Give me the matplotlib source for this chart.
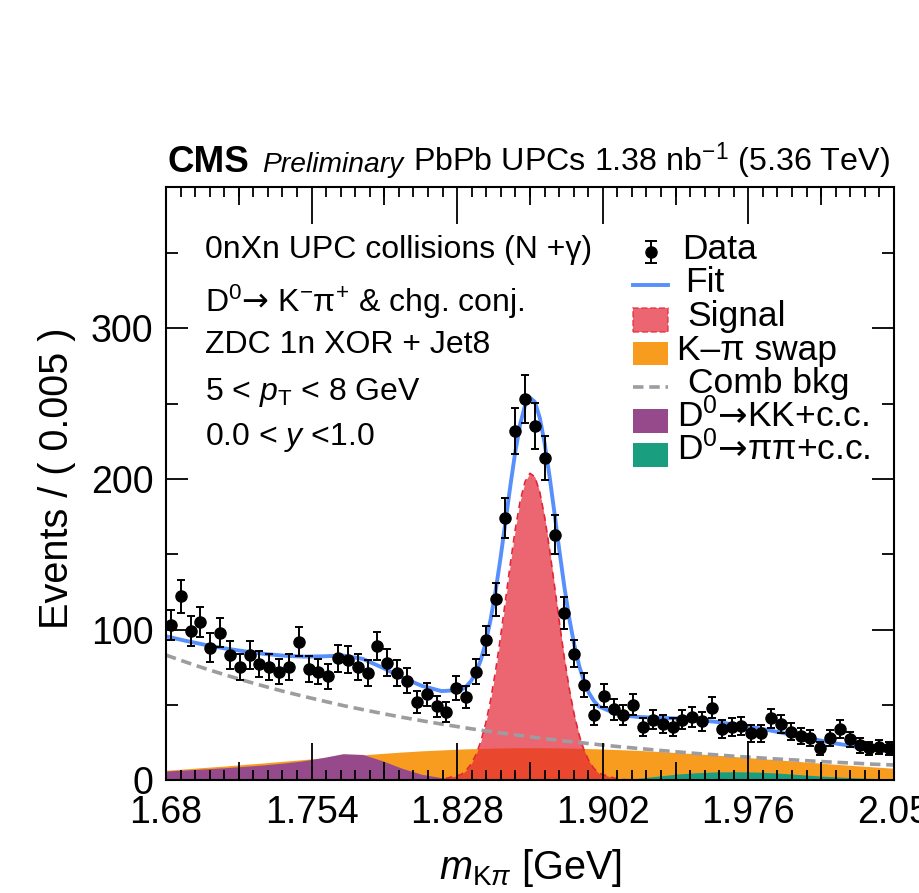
import numpy as np
import matplotlib
matplotlib.use("Agg")
from matplotlib import pyplot as plt
from matplotlib.patches import Rectangle

plt.rcParams['font.family'] = 'Liberation Sans'
plt.rcParams['mathtext.fontset'] = 'custom'
plt.rcParams['mathtext.rm'] = 'Liberation Sans'
plt.rcParams['mathtext.it'] = 'Liberation Sans:italic'
plt.rcParams['mathtext.bf'] = 'Liberation Sans:bold'
plt.rcParams['mathtext.sf'] = 'DejaVu Sans'

# binned K-pi invariant mass, 5 MeV bins from 1.68 to 2.05 GeV
bin_lo = 1.68
bin_width = 0.005
counts = [103, 122, 99, 105, 88, 98, 83, 75, 83, 77,
          75, 72, 75, 92, 74, 72, 69, 81, 80, 75,
          71, 89, 78, 71, 66, 52, 57, 49, 45, 61,
          55, 72, 93, 120, 174, 232, 253, 235, 214, 163,
          111, 84, 63, 43, 56, 47, 43, 50, 35, 40,
          37, 35, 40, 42, 39, 48, 34, 35, 36, 31,
          31, 41, 37, 32, 29, 28, 21, 28, 34, 27,
          23, 21, 22, 21]

# fit components, sampled coarsely on the sidebands and finely under the peak
mass = np.round(np.concatenate([np.linspace(1.68, 1.83, 16),
                                np.linspace(1.8325, 1.8975, 27),
                                np.linspace(1.90, 2.05, 16)]), 4)

comb_bkg = [83.0, 78.4, 74.0, 69.9, 66.0, 62.3, 58.8, 55.6, 52.5, 49.5, 46.8, 44.2, 41.7, 39.4, 37.2, 35.1,
            34.6, 34.1, 33.6, 33.1, 32.7, 32.2, 31.8, 31.3, 30.9, 30.4, 30.0, 29.6, 29.2, 28.7,
            28.3, 27.9, 27.5, 27.1, 26.8, 26.4, 26.0, 25.6, 25.3, 24.9, 24.6, 24.2, 23.9,
            23.5, 22.2, 21.0, 19.8, 18.7, 17.6, 16.7, 15.7, 14.9, 14.0, 13.3, 12.5, 11.8, 11.2, 10.5, 10.0]

kpi_swap = [6.5, 7.4, 8.4, 9.3, 10.4, 11.4, 12.5, 13.6, 14.7, 15.7, 16.7, 17.7, 18.6, 19.4, 20.0, 20.6,
            20.7, 20.8, 20.9, 21.0, 21.1, 21.2, 21.3, 21.3, 21.4, 21.4, 21.5, 21.5, 21.5, 21.5,
            21.5, 21.5, 21.5, 21.4, 21.4, 21.4, 21.3, 21.2, 21.2, 21.1, 21.0, 20.9, 20.8,
            20.7, 20.2, 19.7, 19.0, 18.2, 17.4, 16.5, 15.5, 14.5, 13.5, 12.5, 11.5, 10.5, 9.6, 8.7, 7.8]

d0_kk = ([6.0, 6.7, 7.4, 8.2, 9.1, 10.1, 11.3, 12.8, 15.0, 17.5, 17.0, 12.8, 7.8, 3.8, 1.6, 0.5,
          0.4, 0.3, 0.2, 0.1] + [0.0] * 23 + [0.0] * 16)

d0_pipi = ([0.0] * 16 + [0.0] * 24 + [0.05, 0.1, 0.15] +
           [0.2, 0.5, 1.2, 2.6, 4.0, 4.9, 5.4, 5.5, 5.3, 4.7, 3.8, 2.9, 2.1, 1.5, 1.0, 0.7])

signal = ([0.0] * 14 + [0.3, 3.6] +
          [6.3, 10.4, 16.6, 25.5, 37.5, 53.2, 72.3, 94.6, 118.8, 143.4, 166.2, 185.2, 198.2, 203.8,
           201.4, 191.2, 174.4, 152.8, 128.7, 104.1, 80.9, 60.4, 43.4, 29.9, 19.8, 12.6, 7.7] +
          [4.5, 0.4] + [0.0] * 14)

c_fit = '#5790fc'
c_sig = '#e42536'
c_swap = '#f89c20'
c_comb = '#9c9ca1'
c_kk = '#964a8b'
c_pipi = '#1a9e80'

counts = np.array(counts, dtype=float)
centers = bin_lo + bin_width * (np.arange(len(counts)) + 0.5)
errors = np.sqrt(counts)
fit = (np.array(comb_bkg) + np.array(kpi_swap) + np.array(d0_kk)
       + np.array(d0_pipi) + np.array(signal))

fig = plt.figure(figsize=(9.2, 8.93), dpi=100)
ax = fig.add_axes([0.1804, 0.1265, 0.7913, 0.6641])

ax.fill_between(mass, 0, kpi_swap, color=c_swap, lw=0, zorder=1)
ax.fill_between(mass, 0, d0_kk, color=c_kk, lw=0, zorder=1.2)
ax.fill_between(mass, 0, d0_pipi, color=c_pipi, lw=0, zorder=1.2)
ax.fill_between(mass, 0, signal, color=c_sig, alpha=0.7, lw=0, zorder=1.5)
ax.plot(mass, signal, color=c_sig, lw=1.2, ls=(0, (4, 3)), zorder=1.6)
ax.plot(mass, comb_bkg, color=c_comb, lw=2.6, ls=(0, (2.9, 1.6)), zorder=2)
ax.plot(mass, fit, color=c_fit, lw=2.8, zorder=3)
ax.errorbar(centers, counts, yerr=errors, fmt='o', color='black', ms=8,
            elinewidth=1.4, capsize=2.9, capthick=1.4, zorder=4)

ax.set_xlim(1.68, 2.05)
ax.set_ylim(0, 394)

# three levels of ticks on the mass axis
x_major = np.linspace(1.68, 2.05, 6)
x_mid = x_major[:-1] + 0.037
x_minor = np.linspace(1.68, 2.05, 51)
ax.set_xticks(x_major)
ax.set_xticklabels(['1.68', '1.754', '1.828', '1.902', '1.976', '2.05'])
ax.set_xticks(x_minor, minor=True)
ax.set_yticks([0, 100, 200, 300])
ax.set_yticks(np.arange(0, 394, 50), minor=True)
ax.tick_params(which='both', direction='in', top=True, right=True, width=1.3, labelsize=27)
ax.tick_params(axis='x', which='major', length=26.5, pad=11)
ax.tick_params(axis='x', which='minor', length=7.2)
ax.tick_params(axis='y', which='major', length=15.5, pad=9)
ax.tick_params(axis='y', which='minor', length=8.5)
ax.vlines(x_mid, 0, 0.0304, transform=ax.get_xaxis_transform(), color='black', lw=1.3, zorder=10)
ax.vlines(x_mid, 0.9696, 1, transform=ax.get_xaxis_transform(), color='black', lw=1.3, zorder=10)
ax.xaxis.set_zorder(10)
ax.yaxis.set_zorder(10)
for sp in ax.spines.values():
    sp.set_linewidth(1.5)
    sp.set_zorder(10)

# titles
fig.text(0.1826, 0.8077, 'CMS', fontsize=26.5, fontweight='bold', va='baseline')
fig.text(0.2848, 0.8077, 'Preliminary', fontsize=20.3, style='italic', va='baseline')
fig.text(0.9674, 0.8077, r'PbPb UPCs 1.38 nb$^{-1}$ (5.36 TeV)', fontsize=23.2, ha='right', va='baseline')
fig.text(0.062, 0.4647, 'Events / ( 0.005 )', fontsize=28.5, rotation=90, ha='center', va='center')
fig.text(0.576, 0.016, r'$m_{\mathrm{K}\pi}$ [GeV]', fontsize=28.5, ha='center', va='baseline')

# selection text
arrow = r'$\mathsf{→}$'
info = ['0nXn UPC collisions (N +γ)',
        r'D$^{0}$' + arrow + r' K$^{-}$π$^{+}$ & chg. conj.',
        'ZDC 1n XOR + Jet8',
        r'5 < $p_{\mathrm{T}}$ < 8 GeV',
        r'0.0 < $y$ <1.0']
info_y = [0.8803, 0.7897, 0.7201, 0.6408, 0.5649]
for txt, yy in zip(info, info_y):
    ax.text(0.0536, yy, txt, transform=ax.transAxes, fontsize=23, va='baseline', zorder=11)

# legend
hx0, hx1 = 0.6415, 0.6896
ax.plot([0.666, 0.666], [0.8725, 0.9090], transform=ax.transAxes, color='black', lw=1.4, clip_on=False, zorder=11)
ax.plot([0.666, 0.666], [0.8725, 0.9090], '_', transform=ax.transAxes, color='black', ms=8, mew=1.4, clip_on=False, zorder=11)
ax.plot([0.666], [0.8904], 'o', transform=ax.transAxes, color='black', ms=8, clip_on=False, zorder=11)
ax.plot([hx0, hx1], [0.8347, 0.8347], transform=ax.transAxes, color=c_fit, lw=2.8, zorder=11)
ax.add_patch(Rectangle((hx0, 0.7555), hx1 - hx0, 0.0405, transform=ax.transAxes, facecolor=c_sig,
                       alpha=0.7, edgecolor=c_sig, lw=1.2, ls='--', zorder=11))
ax.add_patch(Rectangle((hx0, 0.6998), hx1 - hx0, 0.0388, transform=ax.transAxes, facecolor=c_swap,
                       lw=0, zorder=11))
ax.plot([hx0, hx1], [0.6627, 0.6627], transform=ax.transAxes, color=c_comb, lw=2.6,
        ls=(0, (2.9, 1.6)), zorder=11)
ax.add_patch(Rectangle((hx0, 0.5852), hx1 - hx0, 0.0404, transform=ax.transAxes, facecolor=c_kk,
                       lw=0, zorder=11))
ax.add_patch(Rectangle((hx0, 0.5278), hx1 - hx0, 0.0405, transform=ax.transAxes, facecolor=c_pipi,
                       lw=0, zorder=11))

labels = ['Data', 'Fit', 'Signal', 'K–π swap', 'Comb bkg',
          r'D$^{0}$' + arrow + 'KK+c.c.', r'D$^{0}$' + arrow + 'ππ+c.c.']
label_x = [0.7088, 0.7129, 0.7157, 0.7019, 0.7170, 0.7019, 0.7019]
label_y = [0.8786, 0.8221, 0.7656, 0.7091, 0.6526, 0.5961, 0.5396]
for txt, xx, yy in zip(labels, label_x, label_y):
    ax.text(xx, yy, txt, transform=ax.transAxes, fontsize=25.5, va='baseline', zorder=11)

fig.savefig('out.png', dpi=100)
